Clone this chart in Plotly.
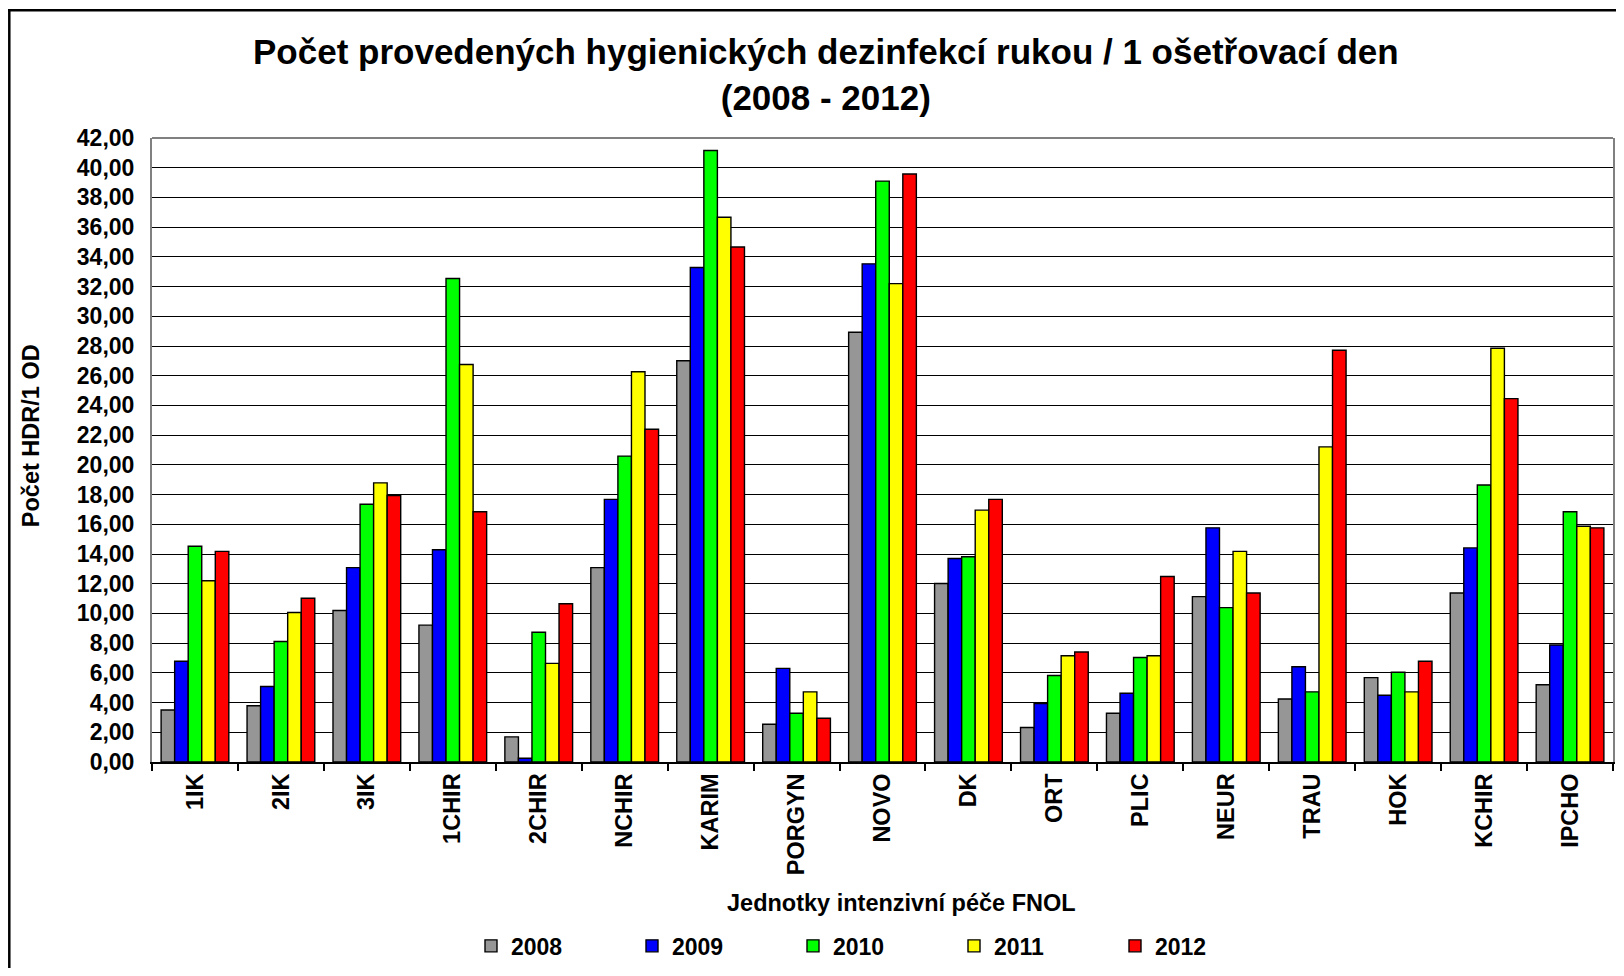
import plotly.graph_objects as go

categories = ["1IK", "2IK", "3IK", "1CHIR", "2CHIR", "NCHIR", "KARIM", "PORGYN", "NOVO",
              "DK", "ORT", "PLIC", "NEUR", "TRAU", "HOK", "KCHIR", "IPCHO"]

y2008 = [3.50, 3.79, 10.20, 9.21, 1.69, 13.08, 27.01, 2.54, 28.93, 12.01, 2.32, 3.28, 11.13, 4.24, 5.68, 11.38, 5.20]
y2009 = [6.78, 5.08, 13.08, 14.29, 0.25, 17.68, 33.28, 6.30, 33.53, 13.70, 3.93, 4.63, 15.76, 6.41, 4.49, 14.41, 7.88]
y2010 = [14.52, 8.11, 17.35, 32.54, 8.73, 20.59, 41.16, 3.28, 39.10, 13.81, 5.82, 7.03, 10.39, 4.72, 6.04, 18.64, 16.84]
y2011 = [12.20, 10.06, 18.79, 26.75, 6.64, 26.27, 36.67, 4.72, 32.20, 16.95, 7.15, 7.15, 14.18, 21.21, 4.72, 27.85, 15.87]
y2012 = [14.18, 11.02, 17.94, 16.84, 10.65, 22.40, 34.66, 2.94, 39.58, 17.68, 7.40, 12.49, 11.38, 27.71, 6.78, 24.46, 15.76]

series_names = ["2008", "2009", "2010", "2011", "2012"]
series_values = [y2008, y2009, y2010, y2011, y2012]
series_colors = ["#969696", "#0000FF", "#00FF00", "#FFFF00", "#FF0000"]

title_text = "Počet provedených hygienických dezinfekcí rukou / 1 ošetřovací den<br>(2008 - 2012)"
y_title = "Počet HDR/1 OD"
x_title = "Jednotky intenzivní péče FNOL"

# page offset from default body margin
OFF = 8
W, H = 1624 - 2 * OFF, 976 - 2 * OFF
# plot area in page pixels
PL, PR, PT, PB = 152, 1613, 137.7, 762
L, R, T, B = PL - OFF, PR - OFF, PT - OFF, PB - OFF
FONT = "Liberation Sans, Arial, sans-serif"


def px_x(page_px):
    return (page_px - PL) / (PR - PL)


def px_y(page_py):
    return (PB - page_py) / (PB - PT)


fig = go.Figure()
for name, vals, col in zip(series_names, series_values, series_colors):
    fig.add_trace(go.Bar(
        x=categories, y=vals, name=name,
        marker=dict(color=col, line=dict(color="black", width=1.4)),
    ))

fig.update_layout(
    width=W, height=H,
    margin=dict(l=L, r=W - R, t=T, b=H - B, autoexpand=False),
    paper_bgcolor="white", plot_bgcolor="white",
    barmode="group", bargap=0.212, bargroupgap=0,
    separators=", ",
    font=dict(family=FONT, color="black", size=22, weight="bold"),
    showlegend=True,
    legend=dict(
        orientation="h", x=px_x(471), xanchor="left", y=px_y(946), yanchor="middle",
        entrywidth=116, entrywidthmode="pixels",
        font=dict(family=FONT, size=23, color="black", weight="bold"),
        bgcolor="rgba(0,0,0,0)", itemclick=False,
    ),
)

fig.update_xaxes(
    type="category", tickson="boundaries", ticks="outside", ticklen=7,
    tickwidth=1.5, tickcolor="black", tickangle=-90,
    showline=True, linecolor="black", linewidth=2, showgrid=False,
    tickfont=dict(family=FONT, size=23.5, color="black", weight="bold"),
)
fig.update_yaxes(
    range=[0, 42], dtick=2, tick0=0, tickformat=".2f",
    showgrid=True, gridcolor="black", gridwidth=1.3,
    showline=True, linecolor="#808080", linewidth=2, mirror=True,
    ticks="outside", ticklen=11, tickcolor="rgba(0,0,0,0)",
    tickfont=dict(family=FONT, size=23, color="black", weight="bold"),
    zeroline=False,
)

shapes = [
    # gray top border of plot area
    dict(type="line", xref="paper", yref="paper", x0=0, x1=1, y0=1, y1=1,
         line=dict(color="#808080", width=2), layer="above"),
    # outer chart frame (left and top sides visible)
    dict(type="line", xref="paper", yref="paper", x0=px_x(9.3), x1=px_x(9.3), y0=px_y(990), y1=px_y(10),
         line=dict(color="black", width=2.5)),
    dict(type="line", xref="paper", yref="paper", x0=px_x(8), x1=px_x(1640), y0=px_y(10), y1=px_y(10),
         line=dict(color="black", width=2.5)),
]
fig.update_layout(shapes=shapes)

annotations = [
    dict(text="<b>" + title_text.replace("<br>", "</b><br><b>") + "</b>", xref="paper", yref="paper",
         x=px_x(826), y=px_y(74), xanchor="center", yanchor="middle", showarrow=False,
         font=dict(family=FONT, size=35, color="black")),
    dict(text="<b>" + y_title + "</b>", xref="paper", yref="paper",
         x=px_x(31), y=px_y(436), xanchor="center", yanchor="middle", textangle=-90, showarrow=False,
         font=dict(family=FONT, size=23.5, color="black")),
    dict(text="<b>" + x_title + "</b>", xref="paper", yref="paper",
         x=px_x(902), y=px_y(903), xanchor="center", yanchor="middle", showarrow=False,
         font=dict(family=FONT, size=23.5, color="black")),
]
fig.update_layout(annotations=annotations)

fig.write_html("out.html")
